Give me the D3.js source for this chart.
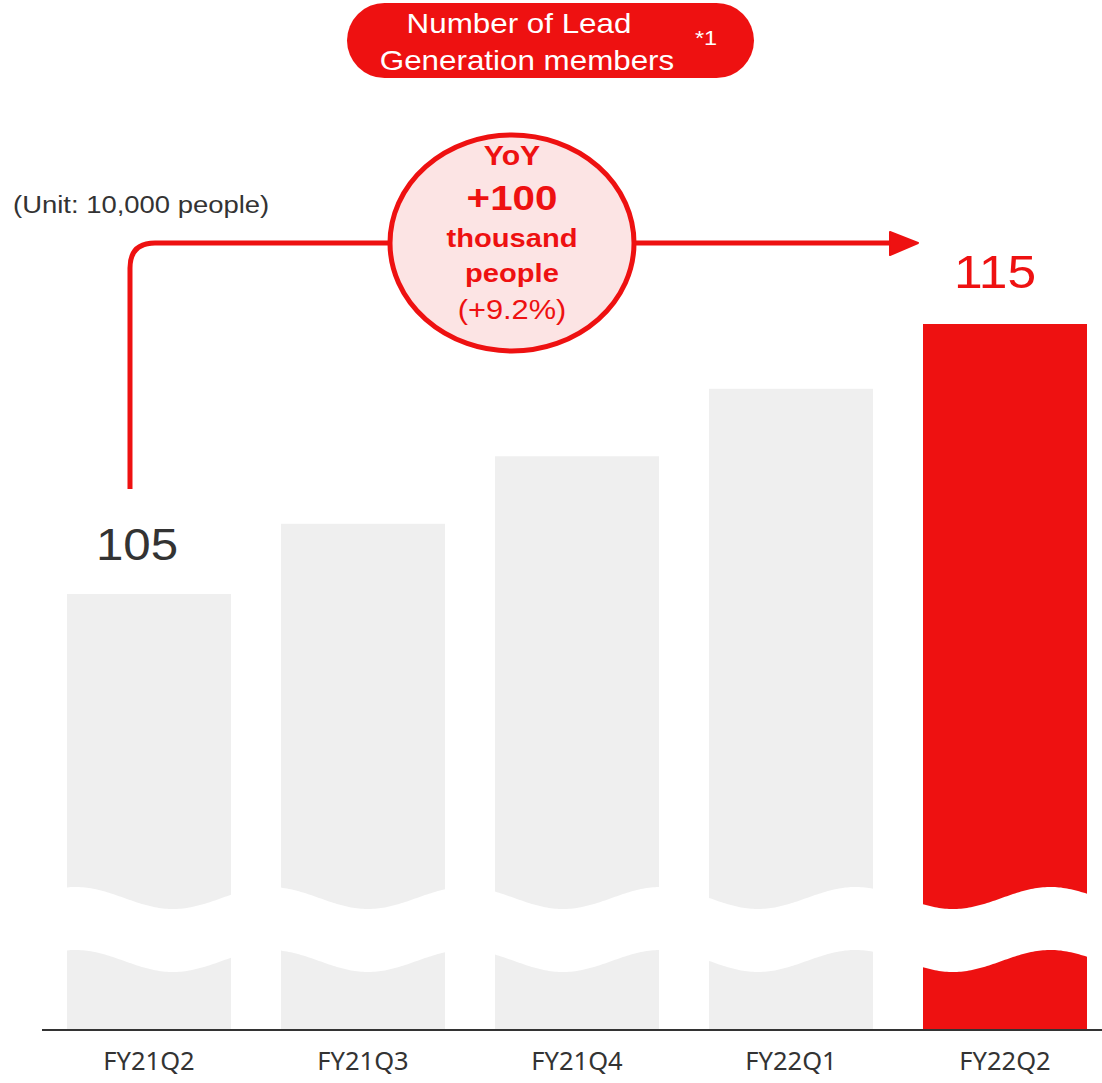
<!DOCTYPE html>
<html>
<head>
<meta charset="utf-8">
<script src="https://cdn.jsdelivr.net/npm/d3@7"></script>
<style>
  html, body { margin: 0; padding: 0; background: #fff; }
  svg { display: block; font-family: "Liberation Sans", Arial, sans-serif; }
</style>
</head>
<body>
<svg id="chart" width="1102" height="1083"></svg>
<script>
// Quarterly membership (unit: 10,000 people)
const quarters = ["FY21Q2", "FY21Q3", "FY21Q4", "FY22Q1", "FY22Q2"];
const members = [105, 107.6, 110.1, 112.6, 115];
const labelled = { FY21Q2: "105", FY22Q2: "115" };

const titleLines = ["Number of Lead", "Generation members"];
const titleNote = "*1";
const unitText = "(Unit: 10,000 people)";
const yoyLines = ["YoY", "+100", "thousand", "people", "(+9.2%)"];

const RED = "#ee1111";
const GREY = "#efefef";
const INK = "#333333";
const STRETCH = 1.12; // slightly widened lettering

const svg = d3.select("#chart");

// Place a horizontally widened text at (px, py)
function wideText(parent, px, py, str) {
  return parent.append("text")
    .attr("transform", `translate(${px},${py}) scale(${STRETCH},1)`)
    .text(str);
}

// Axis is broken near the bottom, so the baseline sits well below the first value
const axisFloor = 88.85;
const baseY = 1030;

const x = d3.scaleBand()
  .domain(quarters)
  .range([42, 1112])
  .paddingInner(0.2336)
  .paddingOuter(0.1168);

const y = d3.scaleLinear()
  .domain([axisFloor, 115])
  .range([baseY, 324]);

const data = quarters.map((q, i) => ({ q, v: members[i], last: i === quarters.length - 1 }));

// Bars
svg.append("g").selectAll("rect")
  .data(data)
  .join("rect")
  .attr("x", d => x(d.q))
  .attr("y", d => y(d.v))
  .attr("width", x.bandwidth())
  .attr("height", d => baseY - y(d.v))
  .attr("fill", d => d.last ? RED : GREY);

// Wavy break band across the bars
const waveTop = xx => 898 + 11 * Math.cos(2 * Math.PI * (xx - 173) / 195);
const gap = 63;
const xs = d3.range(x(quarters[0]) - 2, x(quarters[quarters.length - 1]) + x.bandwidth() + 3, 2);
const topPts = xs.map(v => [v, waveTop(v)]);
const botPts = xs.slice().reverse().map(v => [v, waveTop(v) + gap]);
svg.append("path")
  .attr("d", d3.line()(topPts.concat(botPts)) + "Z")
  .attr("fill", "#ffffff");

// Baseline axis
const xAxis = d3.axisBottom(x).tickSize(0).tickPadding(16);
const axisG = svg.append("g")
  .attr("transform", `translate(0,${baseY})`)
  .call(xAxis);
axisG.select(".domain").remove();
axisG.selectAll("text")
  .attr("font-family", "'Noto Sans', sans-serif")
  .attr("font-size", 25.5)
  .attr("fill", INK)
  .attr("dy", "0.95em");
svg.append("line")
  .attr("x1", 42).attr("x2", 1102)
  .attr("y1", baseY).attr("y2", baseY)
  .attr("stroke", INK).attr("stroke-width", 2);

// Value labels
data.filter(d => labelled[d.q]).forEach(d => {
  wideText(svg, x(d.q) + x.bandwidth() / 2 - (d.last ? 10 : 12), y(d.v) - (d.last ? 36 : 34), labelled[d.q])
    .attr("text-anchor", "middle")
    .attr("font-size", d.last ? 46 : 44)
    .attr("fill", d.last ? RED : INK);
});

// Unit note
wideText(svg, 13, 213, unitText)
  .attr("font-size", 24.5)
  .attr("fill", INK);

// Title pill
svg.append("rect")
  .attr("x", 347).attr("y", 3)
  .attr("width", 407).attr("height", 75)
  .attr("rx", 37.5)
  .attr("fill", RED);
wideText(svg, 519, 33, titleLines[0])
  .attr("text-anchor", "middle")
  .attr("font-size", 28)
  .attr("fill", "#fff");
wideText(svg, 527, 70, titleLines[1])
  .attr("text-anchor", "middle")
  .attr("font-size", 28)
  .attr("fill", "#fff");
wideText(svg, 706, 45, titleNote)
  .attr("text-anchor", "middle")
  .attr("font-size", 21)
  .attr("fill", "#fff");

// YoY connector from first bar to last bar
const first = data[0], last = data[data.length - 1];
const cx0 = x(first.q) + 63;
const lineY = 243;
const r = 25;
const tipX = x(last.q) - 5;
svg.append("path")
  .attr("d", `M${cx0},${y(first.v) - 105} V${lineY + r} Q${cx0},${lineY} ${cx0 + r},${lineY} H${tipX - 20}`)
  .attr("fill", "none")
  .attr("stroke", RED)
  .attr("stroke-width", 5);
svg.append("path")
  .attr("d", `M${tipX - 28},${lineY - 11} L${tipX},${lineY} L${tipX - 28},${lineY + 12} Z`)
  .attr("fill", RED)
  .attr("stroke", RED)
  .attr("stroke-width", 2)
  .attr("stroke-linejoin", "round");

// YoY bubble
const bx = 512, by = 243;
svg.append("ellipse")
  .attr("cx", bx).attr("cy", by)
  .attr("rx", 122).attr("ry", 108)
  .attr("fill", "#fce4e4")
  .attr("stroke", RED)
  .attr("stroke-width", 5);
const bubbleText = [
  { t: yoyLines[0], y: 165, s: 27, w: "bold" },
  { t: yoyLines[1], y: 210, s: 36, w: "bold" },
  { t: yoyLines[2], y: 247, s: 26, w: "bold" },
  { t: yoyLines[3], y: 282, s: 26, w: "bold" },
  { t: yoyLines[4], y: 319, s: 27.5, w: "normal" }
];
bubbleText.forEach(d => {
  wideText(svg, bx, d.y, d.t)
    .attr("text-anchor", "middle")
    .attr("font-size", d.s)
    .attr("font-weight", d.w)
    .attr("fill", RED);
});
</script>
</body>
</html>
